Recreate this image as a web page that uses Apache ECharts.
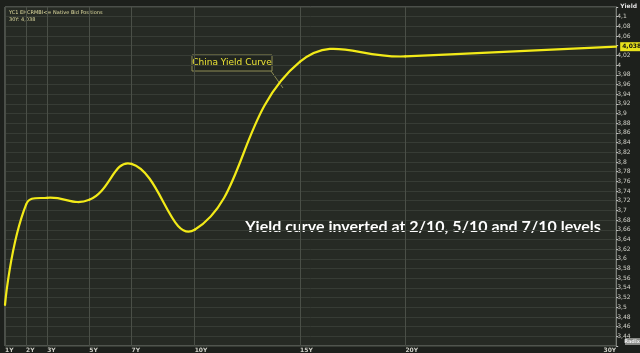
<!DOCTYPE html>
<html>
<head>
<meta charset="utf-8">
<script src="https://cdn.jsdelivr.net/npm/echarts@6/dist/echarts.min.js"></script>
<style>
  html, body { margin: 0; padding: 0; background: #1d201c; }
  #chart { width: 640px; height: 353px; }
</style>
</head>
<body>
<div id="chart"></div>
<script>
// Tenors (years) and yields
const tenors = [1, 2, 3, 5, 7, 10, 15, 20, 30];
const tenorLabels = ['1Y', '2Y', '3Y', '5Y', '7Y', '10Y', '15Y', '20Y', '30Y'];
const yields = [3.505, 3.712, 3.726, 3.722, 3.796, 3.660, 4.007, 4.018, 4.038];
const lastLabel = '4,038';
const seriesName = 'China Yield Curve';
const headerLines = ['YC1 EHCRMBI<= Native Bid Positions', '30Y: 4,038'];
const note = 'Yield curve inverted at 2/10, 5/10 and 7/10 levels';
const smoothness = 0.45;

const chart = echarts.init(document.getElementById('chart'), null, { renderer: 'canvas' });

function fmtY(v) {
  const r = Math.round(v * 100) / 100;
  if (Math.abs(r - 3.42) < 1e-6 || Math.abs(r - 4.12) < 1e-6 || Math.abs(r - 4.04) < 1e-6) return '';
  return String(parseFloat(r.toFixed(2))).replace('.', ',');
}

// Smoothed line like ECharts' own "smooth" but without the control-point clamp,
// which is how the original terminal chart bends between tenors.
function controlPoints(pts, s) {
  const n = pts.length;
  const cin = [], cout = [];
  for (let k = 0; k < n; k++) {
    const p = pts[k];
    if (k === 0 || k === n - 1) { cin.push(p); cout.push(p); continue; }
    const a = pts[k - 1], b = pts[k + 1];
    const vx = b[0] - a[0], vy = b[1] - a[1];
    const lp = Math.hypot(p[0] - a[0], p[1] - a[1]);
    const ln = Math.hypot(b[0] - p[0], b[1] - p[1]);
    const r = ln / (lp + ln);
    cout.push([p[0] + vx * s * r, p[1] + vy * s * r]);
    cin.push([p[0] - vx * s * (1 - r), p[1] - vy * s * (1 - r)]);
  }
  return { cin, cout };
}

function renderSegment(params, api) {
  const i = params.dataIndex;
  if (i >= tenors.length - 1) return null;
  const pts = tenors.map((t, k) => api.coord([t, yields[k]]));
  const cp = controlPoints(pts, smoothness);
  const p0 = pts[i], p1 = pts[i + 1], c0 = cp.cout[i], c1 = cp.cin[i + 1];
  return {
    type: 'bezierCurve',
    shape: { x1: p0[0], y1: p0[1], x2: p1[0], y2: p1[1], cpx1: c0[0], cpy1: c0[1], cpx2: c1[0], cpy2: c1[1] },
    style: { stroke: '#f2ea18', lineWidth: 2.2, fill: null, lineCap: 'round' }
  };
}

const option = {
  backgroundColor: '#1d201c',
  animation: false,
  grid: {
    left: 5, right: 17, top: 7, bottom: 7,
    show: true,
    backgroundColor: '#262a24',
    borderColor: '#7a7e78',
    borderWidth: 1
  },
  xAxis: {
    type: 'value',
    min: 1, max: 30,
    axisLine: { show: false },
    axisTick: { show: false, customValues: tenors },
    axisLabel: {
      customValues: tenors,
      formatter: v => tenorLabels[tenors.indexOf(v)] || '',
      color: '#d0d0c8', fontSize: 6, fontWeight: 'bold',
      fontFamily: 'DejaVu Sans', align: 'left', margin: 1,
      alignMaxLabel: 'right'
    },
    splitLine: { show: true, lineStyle: { color: '#4a4f47', width: 1 } }
  },
  yAxis: {
    type: 'value',
    position: 'right',
    min: 3.42, max: 4.12, interval: 0.02,
    name: 'Yield',
    nameLocation: 'end',
    nameGap: -2,
    nameTextStyle: { color: '#e0e0e0', fontSize: 6, fontWeight: 'bold', fontFamily: 'DejaVu Sans', align: 'left', padding: [0, 0, 0, 4] },
    axisLine: { show: true, lineStyle: { color: '#7a7e78' } },
    axisTick: { show: true, length: 2, lineStyle: { color: '#c0c0c0' } },
    axisLabel: { formatter: fmtY, color: '#d0d0c8', fontSize: 6, fontFamily: 'DejaVu Sans', margin: 1 },
    splitLine: { show: true, lineStyle: { color: '#373c35', width: 1 } }
  },
  series: [{
    name: seriesName,
    type: 'custom',
    coordinateSystem: 'cartesian2d',
    data: tenors.map((t, i) => [t, yields[i]]),
    encode: { x: 0, y: 1 },
    renderItem: renderSegment,
    silent: true,
    markPoint: {
      symbol: 'rect', symbolSize: 0,
      data: [{ coord: [tenors[tenors.length - 1], yields[yields.length - 1]] }],
      label: {
        show: true, formatter: lastLabel, position: 'right', distance: 4,
        backgroundColor: '#e8e21c', color: '#111', fontSize: 6, fontWeight: 'bold',
        fontFamily: 'DejaVu Sans', padding: [2, 2, 1, 2]
      }
    }
  }],
  graphic: [
    { type: 'text', left: 9, top: 10, style: { text: headerLines[0], fill: '#e0dca0', font: '5px "DejaVu Sans"' } },
    { type: 'text', left: 9, top: 17, style: { text: headerLines[1], fill: '#e0dca0', font: '5px "DejaVu Sans"' } },
    { type: 'rect', shape: { x: 192, y: 55, width: 80, height: 16 }, style: { fill: '#20241e', stroke: '#8e8c55', lineWidth: 1 } },
    { type: 'text', x: 232, y: 63, style: { text: seriesName, fill: '#ebe336', font: '9px "DejaVu Sans"', align: 'center', verticalAlign: 'middle' } },
    { type: 'line', shape: { x1: 271, y1: 71, x2: 283, y2: 88 }, style: { stroke: '#8e8c55', lineWidth: 1 } },
    { type: 'text', x: 423, y: 227, style: { text: note, fill: '#ffffff', font: 'bold 16px Lato', align: 'center', verticalAlign: 'middle' } },
    { type: 'rect', shape: { x: 625, y: 338, width: 15, height: 7 }, style: { fill: '#8a8c88' } },
    { type: 'text', x: 632, y: 342, style: { text: 'Radix', fill: '#f0f0f0', font: 'bold 5px "DejaVu Sans"', align: 'center', verticalAlign: 'middle' } }
  ]
};
chart.setOption(option);
</script>
</body>
</html>
